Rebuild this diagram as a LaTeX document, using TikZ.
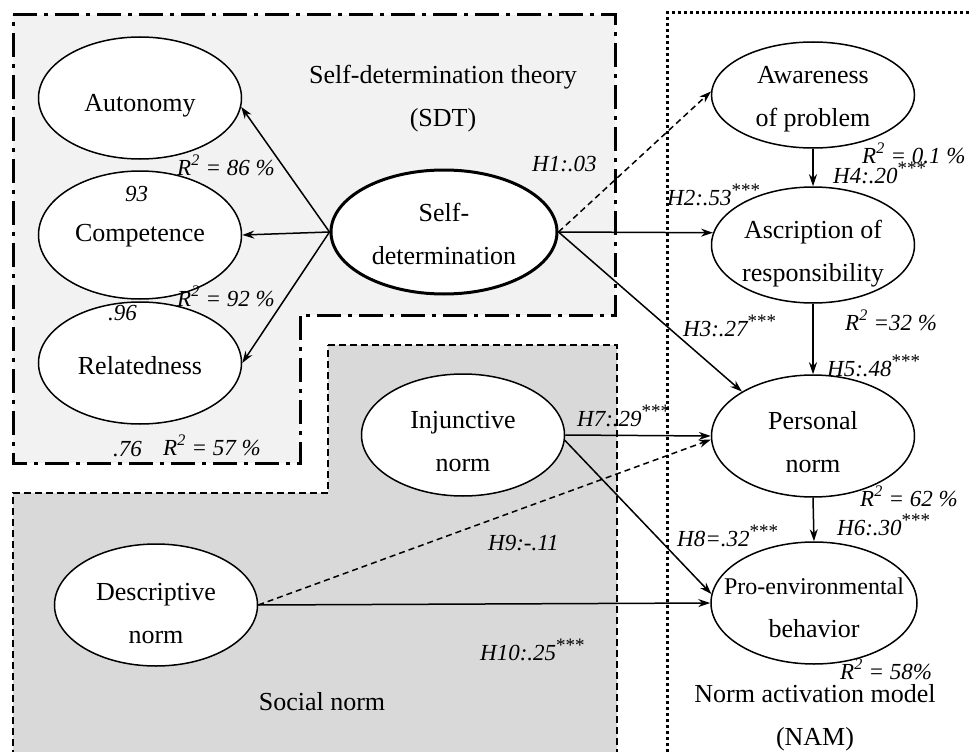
\documentclass[tikz,border=0pt]{standalone}
\usepackage{fontspec}
\setmainfont{Liberation Serif}
\usetikzlibrary{shapes.geometric,arrows.meta}
\definecolor{sdtgray}{HTML}{F2F2F2}
\definecolor{socgray}{HTML}{D9D9D9}
\newcommand{\mysig}{\raisebox{9pt}{\fontsize{19}{19}\selectfont\upshape ***}}
\newcommand{\rsq}{\textit{R}\textsuperscript{2}}
\begin{document}
\begin{tikzpicture}[x=1pt,y=-1pt,
  lattxt/.style={inner sep=0pt,align=center,font=\fontsize{26}{43}\selectfont},
  lat/.style 2 args={ellipse,draw,line width=1.5pt,fill=white,minimum width=203pt,minimum height=122pt,inner sep=0pt,
    label={[lattxt,yshift=-#2pt]center:{#1}}},
  lbl/.style={font=\fontsize{23}{28}\selectfont\itshape,inner sep=0pt,anchor=base west},
  ttl/.style={font=\fontsize{26}{43}\selectfont,align=center,inner sep=0pt},
  arr/.style={line width=1.5pt,-{Stealth[length=12pt,width=8pt]}},
  darr/.style={arr,dash pattern=on 6pt off 4pt},
]
\useasboundingbox (0,0) rectangle (970,752);
\clip (0,0) rectangle (970,752);
% regions
\draw[fill=sdtgray, line width=3pt, dash pattern=on 24pt off 7pt on 4pt off 7pt]
  (13,15) -- (615,15) -- (615,315) -- (300,315) -- (300,463) -- (13,463) -- cycle;
\draw[fill=socgray, line width=2pt, dash pattern=on 7pt off 4pt]
  (328,345) -- (617,345) -- (617,770) -- (13,770) -- (13,493) -- (328,493) -- cycle;
\draw[line width=3pt, dash pattern=on 3pt off 3pt] (667,770) -- (667,13) -- (980,13);
% titles
\node[ttl] (sdtt) at (443,99) {Self-determination theory\\(SDT)};
\node[ttl] (namt) at (815,718) {Norm activation model\\(NAM)};
\node[ttl] (soct) at (322,702) {Social norm};
% latent variables
\node[lat={Autonomy}{8}] (aut) at (140,98) {};
\node[lat={Competence}{1}, minimum height=128pt] (com) at (140,235) {};
\node[lat={Relatedness}{3}] (rel) at (140,363) {};
\node[lat={Self-\\determination}{2}, line width=3pt, minimum width=226pt, minimum height=124pt] (sd) at (444,232) {};
\node[lat={Awareness\\of problem}{4}, minimum height=106pt] (aw) at (813,95) {};
\node[lat={Ascription of\\responsibility}{9}, minimum height=116pt] (asc) at (813,245) {};
\node[lat={Personal\\norm}{6}] (pn) at (813,436) {};
\node[lat={\fontsize{24}{39}\selectfont Pro-environmental\\behavior}{5}, minimum width=206pt] (pe) at (814,603) {};
\node[lat={Injunctive\\norm}{7}] (inj) at (463,435) {};
\node[lat={Descriptive\\norm}{9}] (des) at (156,605) {};
% connectors
\draw[arr] (sd.west) -- (aut.-5);
\draw[arr] (sd.west) -- (com.east);
\draw[arr] (sd.west) -- (rel.east);
\draw[darr] (sd.east) -- (aw.178);
\draw[arr] (sd.east) -- (asc.173);
\draw[arr] (sd.east) -- (pn.148);
\draw[arr] (aw.south) -- (asc.north);
\draw[arr] (asc.south) -- (pn.north);
\draw[arr] (pn.south) -- (pe.north);
\draw[arr] (inj.east) -- (pn.west);
\draw[darr] (des.east) -- (pn.182);
\draw[arr] (inj.-3) -- (pe.175);
\draw[arr] (des.east) -- (pe.west);
% labels
\node[lbl] (r86) at (177,175) {\rsq{} = 86 \%};
\node[lbl] (n93) at (125,201) {93};
\node[lbl] (r92) at (177,306) {\rsq{} = 92 \%};
\node[lbl] (n96) at (108,320) {.96};
\node[lbl] (n76) at (113,456) {.76};
\node[lbl] (r57) at (163,455) {\rsq{} = 57 \%};
\node[lbl] (h1) at (532,171) {H1:.03};
\node[lbl] (r01) at (862,163) {\rsq{} = 0.1 \%};
\node[lbl] (h4) at (833,183) {H4:.20\mysig};
\node[lbl] (h2) at (667,205) {H2:.53\mysig};
\node[lbl] (h3) at (683,336) {H3:.27\mysig};
\node[lbl] (r32) at (845,330) {\rsq{} =32 \%};
\node[lbl] (h5) at (827,376) {H5:.48\mysig};
\node[lbl] (h7) at (577,426) {H7:.29\mysig};
\node[lbl] (r62) at (860,506) {\rsq{} = 62 \%};
\node[lbl] (h6) at (837,535) {H6:.30\mysig};
\node[lbl] (h8) at (677,546) {H8=.32\mysig};
\node[lbl] (h9) at (488,550) {H9:-.11};
\node[lbl] (h10) at (480,660) {H10:.25\mysig};
\node[lbl] (r58) at (840,679) {\rsq{} = 58\%};
\end{tikzpicture}
\end{document}
